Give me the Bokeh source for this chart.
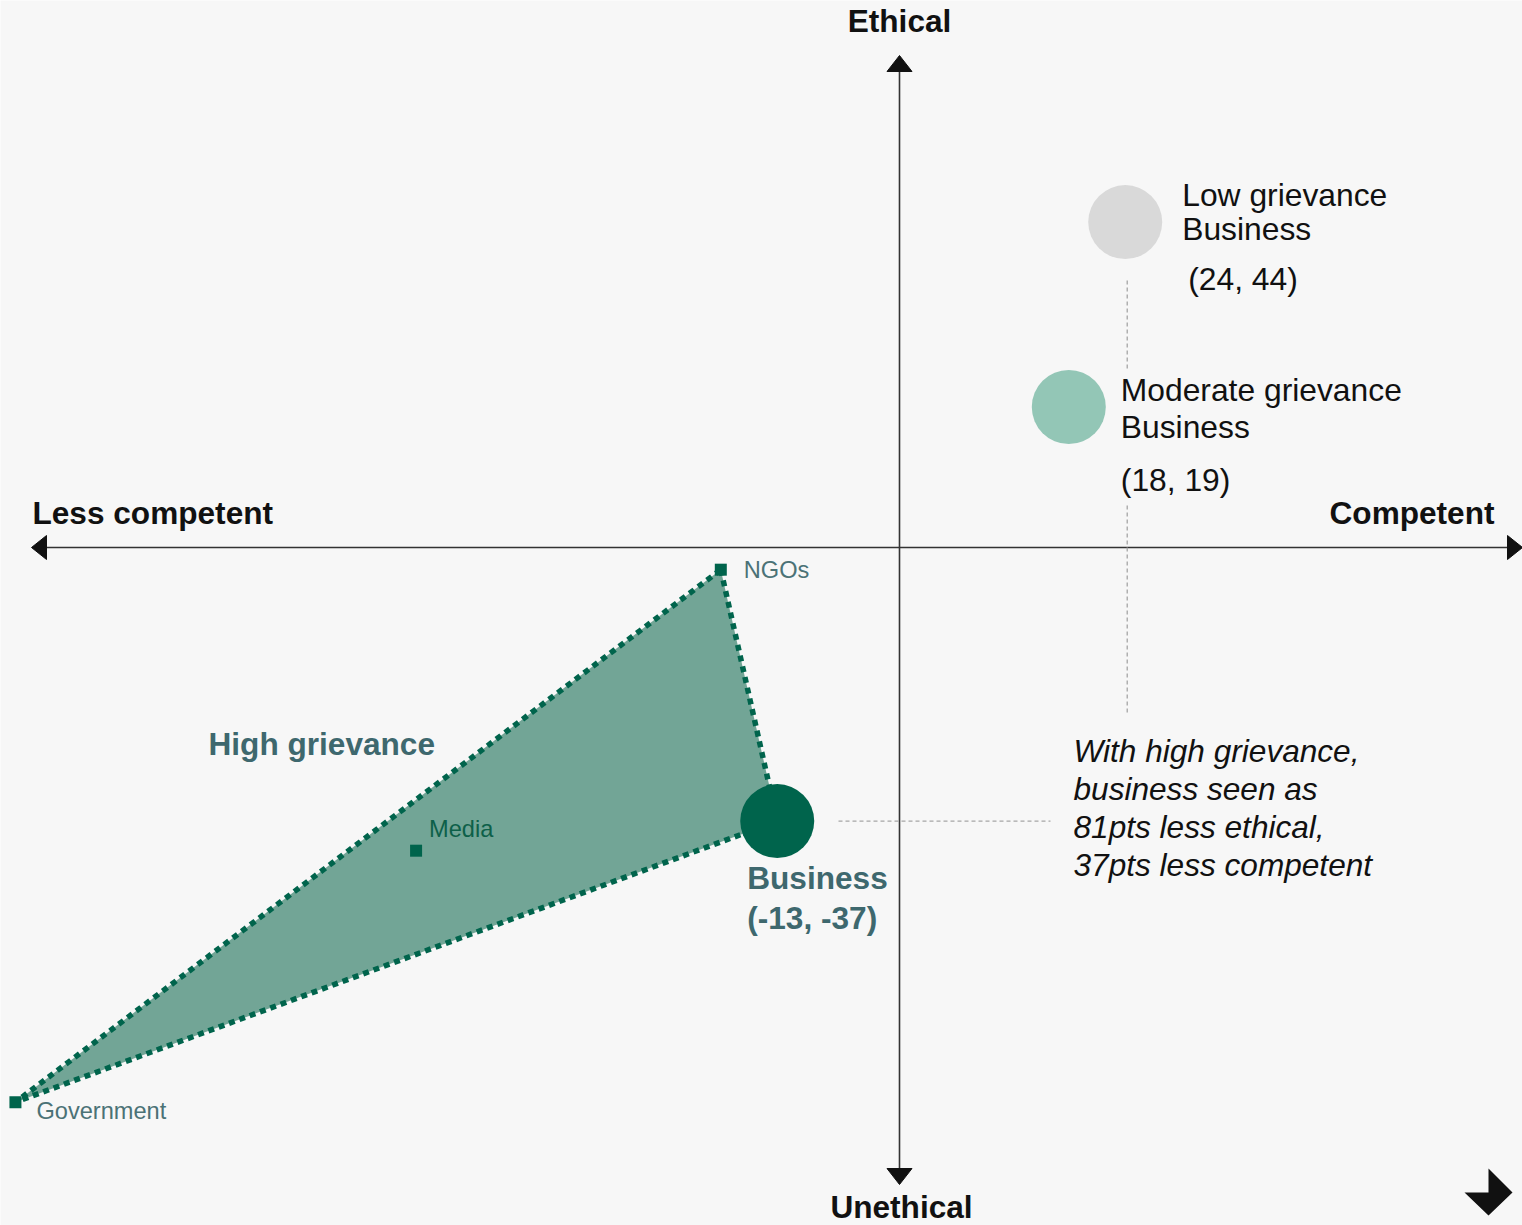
from bokeh.plotting import figure
from bokeh.models import Range1d
from bokeh.core.properties import value
from bokeh.embed import file_html
from bokeh.resources import INLINE

# ---------------- data ----------------
segments = ["Low grievance", "Moderate grievance", "High grievance"]
seg_x = [24, 18, -13]     # competence
seg_y = [44, 19, -37]     # ethics
seg_colors = ["#d9d9d9", "#93c6b6", "#00644c"]

inst_names = ["NGOs", "Media", "Government"]
inst_x = [-19, -51.4, -94]
inst_y = [-3, -41, -75]

axis_labels = ["Ethical", "Unethical", "Less competent", "Competent"]
note_lines = ["With high grievance,", "business seen as",
              "81pts less ethical,", "37pts less competent"]

# ---------------- layout constants (pixel frame 1522x1225) ----------------
W_REF, H_REF = 1522, 1225
OX, OY = 899, 547          # origin in pixels
SX, SY = 9.405, 7.395      # pixels per data unit

def X(px):
    return (px - OX) / SX

def Y(py):
    return (OY - py) / SY

FONT = value("Liberation Sans")
BG = "#f7f7f7"
TEAL_TXT = "#3e686e"
INST_TXT = "#4b7276"
DARK = "#00644c"
BOLD = "31.6px"
REG = "31.8px"
SMALL = "23.6px"

p = figure(width=W_REF, height=H_REF, output_backend="svg", toolbar_location=None,
           x_range=Range1d(X(0), X(W_REF)), y_range=Range1d(Y(H_REF), Y(0)),
           min_border=0, min_border_left=0, min_border_right=0,
           min_border_top=0, min_border_bottom=0)
p.axis.visible = False
p.grid.visible = False
p.outline_line_color = None
p.background_fill_color = BG
p.border_fill_color = BG

# ---------------- axes with arrowheads ----------------
p.line([X(45), X(1508)], [0, 0], line_color="#333333", line_width=1.6)
p.line([0, 0], [Y(70), Y(1168)], line_color="#333333", line_width=1.6)
hw_y = 12 / SY
hw_x = 12.5 / SX
p.patches(
    [[X(31), X(46), X(46)],
     [X(1522), X(1507), X(1507)],
     [0, -hw_x, hw_x],
     [0, -hw_x, hw_x]],
    [[0, hw_y, -hw_y],
     [0, hw_y, -hw_y],
     [Y(55), Y(71), Y(71)],
     [Y(1184), Y(1168), Y(1168)]],
    fill_color="#111111", line_color="#111111", line_width=1)

# ---------------- dashed guide lines ----------------
gx = seg_x[0] + 2 / SX
p.line([gx, gx], [Y(280), Y(370)], line_color="#a6a6a6", line_width=1.3, line_dash="4 3")
p.line([gx, gx], [Y(505), Y(715)], line_color="#a6a6a6", line_width=1.3, line_dash="4 3")
p.line([X(838), X(1050)], [seg_y[2], seg_y[2]], line_color="#a6a6a6", line_width=1.3,
       line_dash="4 3")

# ---------------- high grievance triangle ----------------
tri_x = [inst_x[0], seg_x[2], inst_x[2]]
tri_y = [inst_y[0], seg_y[2], inst_y[2]]
p.patch(tri_x, tri_y, fill_color="#72a596", line_color=None)
p.line(tri_x + [tri_x[0]], tri_y + [tri_y[0]], line_color=DARK, line_width=5.5,
       line_dash="6 5")

p.scatter(inst_x, inst_y, marker="square", size=12, fill_color=DARK, line_color=None)
p.scatter(seg_x, seg_y, size=74, fill_color=seg_colors, line_color=None)

# ---------------- text helpers ----------------
def txt(x, y, s, size=REG, style="normal", color="#111111", align="left",
        baseline="middle"):
    p.text([x], [y], text=[s], text_font=FONT, text_font_size=size,
           text_font_style=style, text_color=color, text_align=align,
           text_baseline=baseline)

# axis labels
txt(0, Y(20), axis_labels[0], size=BOLD, style="bold", align="center")
txt(X(901), Y(1224), axis_labels[1], size=BOLD, style="bold", align="center",
    baseline="bottom")
txt(X(32), Y(512), axis_labels[2], size=BOLD, style="bold")
txt(X(1494), Y(512), axis_labels[3], size=BOLD, style="bold", align="right")

# institution labels
txt(inst_x[0] + 23 / SX, inst_y[0], inst_names[0], size=SMALL, color=INST_TXT)
txt(inst_x[1] + 13 / SX, inst_y[1] + 22 / SY, inst_names[1], size=SMALL, color="#0d6049")
txt(inst_x[2] + 21 / SX, inst_y[2] - 9 / SY, inst_names[2], size=SMALL, color=INST_TXT)

# segment labels
txt(X(208), Y(743), segments[2], size=BOLD, style="bold", color=TEAL_TXT)
txt(seg_x[2] - 30 / SX, seg_y[2] - 57 / SY, "Business", size=BOLD, style="bold",
    color=TEAL_TXT)
txt(seg_x[2] - 30 / SX, seg_y[2] - 97 / SY, f"({seg_x[2]}, {seg_y[2]})", size=BOLD,
    style="bold", color=TEAL_TXT)

txt(seg_x[0] + 57 / SX, seg_y[0] + 27 / SY, segments[0])
txt(seg_x[0] + 57 / SX, seg_y[0] - 7 / SY, "Business")
txt(seg_x[0] + 63 / SX, seg_y[0] - 57 / SY, f"({seg_x[0]}, {seg_y[0]})")

txt(seg_x[1] + 52 / SX, seg_y[1] + 17 / SY, segments[1])
txt(seg_x[1] + 52 / SX, seg_y[1] - 20 / SY, "Business")
txt(seg_x[1] + 52 / SX, seg_y[1] - 73 / SY, f"({seg_x[1]}, {seg_y[1]})")

# note
for i, line in enumerate(note_lines):
    txt(X(1073), Y(750 + 38.3 * i), line, size="31.6px", style="italic")

# corner logo mark
p.patch([X(1488), X(1512), X(1488), X(1464), X(1488)],
        [Y(1168), Y(1192), Y(1215), Y(1192), Y(1192)],
        fill_color="#111111", line_color=None)

open("out.html", "w").write(file_html(p, INLINE))
